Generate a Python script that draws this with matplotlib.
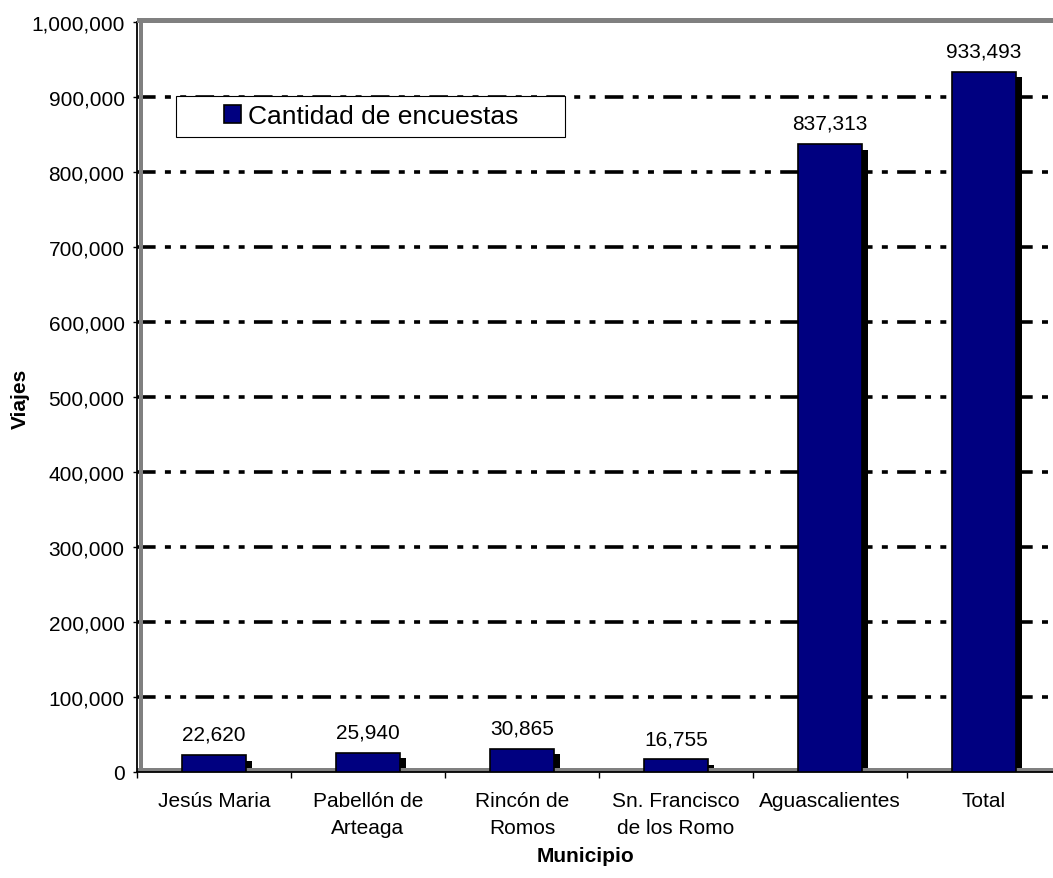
import matplotlib
matplotlib.use('Agg')
import matplotlib.pyplot as plt
from matplotlib.patches import Rectangle
from matplotlib.ticker import FuncFormatter
import numpy as np

plt.rcParams['font.family'] = ['Liberation Sans', 'DejaVu Sans']
plt.rcParams['lines.scale_dashes'] = False

# datos
municipios = ['Jesús Maria', 'Pabellón de\nArteaga', 'Rincón de\nRomos',
              'Sn. Francisco\nde los Romo', 'Aguascalientes', 'Total']
viajes = [22620, 25940, 30865, 16755, 837313, 933493]
serie = 'Cantidad de encuestas'
y_ticks = [0, 100000, 200000, 300000, 400000, 500000, 600000, 700000, 800000, 900000, 1000000]

W, H = 1053, 879
fig = plt.figure(figsize=(W / 100, H / 100), dpi=100)

# area de grafico en pixeles
x0, x1, ytop, ybot = 137, 1061, 23, 773
ax = fig.add_axes([x0 / W, (H - ybot) / H, (x1 - x0) / W, (ybot - ytop) / H])
ax.set_xlim(-0.5, len(municipios) - 0.5)
ax.set_ylim(0, 1000000)

px_x = 1.0 / 154          # una categoria = 154 px
px_y = 1000000 / 750.0    # 750 px para 1,000,000

x = np.arange(len(municipios))
ancho = 64 * px_x
fs = 15

# lineas de division (raya-punto-punto)
for t in y_ticks[1:-1]:
    ax.axhline(t, color='black', lw=2.6, zorder=1,
               linestyle=(0, (13.4, 6.7, 4.3, 6.7, 4.3, 6.7)))

# sombra de las barras
sh = 5.5
ax.bar(x + sh * px_x, [v - sh * px_y for v in viajes], width=ancho,
       bottom=0, color='black', zorder=2)

# piso gris
ax.axhspan(0, 4 * px_y, color='#808080', lw=0, zorder=2.5)

barras = ax.bar(x, viajes, width=ancho, color='#000080', edgecolor='black',
                linewidth=1.2, zorder=3, label=serie)

for xi, v in zip(x, viajes):
    ax.annotate(f'{v:,}', (xi, v), xytext=(0, 11), textcoords='offset points',
                ha='center', va='baseline', fontsize=fs, zorder=6)

# ejes
for s in ['top', 'right']:
    ax.spines[s].set_visible(False)
ax.spines['left'].set_linewidth(1.3)
ax.spines['bottom'].set_linewidth(1.3)

ax.set_yticks(y_ticks)
ax.yaxis.set_major_formatter(FuncFormatter(lambda v, p: f'{int(v):,}'))
ax.tick_params(axis='y', direction='out', length=3, width=1, pad=6, labelsize=fs)

ax.set_xticks(x)
ax.set_xticklabels(municipios, linespacing=1.5)
ax.set_xticks(np.arange(-0.5, len(municipios)), minor=True)
ax.tick_params(axis='x', which='major', length=0, pad=14, labelsize=fs)
ax.tick_params(axis='x', which='minor', direction='out', length=4, width=1)

# pared gris (arriba e izquierda)
fig.patches.append(Rectangle((x0 / W, (H - 24) / H), (W - x0) / W, 5 / H,
                             transform=fig.transFigure, color='#808080', lw=0, zorder=1))
fig.patches.append(Rectangle((139 / W, (H - ybot + 4) / H), 4 / W, (ybot - 19 - 4) / H,
                             transform=fig.transFigure, color='#808080', lw=0, zorder=1))

# leyenda
fig.patches.append(Rectangle((176 / W, (H - 138) / H), (565 - 176) / W, 41 / H,
                             transform=fig.transFigure, facecolor='white',
                             edgecolor='black', lw=0.8, zorder=4))
fig.legend(handles=[barras], labels=[serie], loc='center',
           bbox_to_anchor=(371 / W, 1 - 117.5 / H), frameon=False, fontsize=19,
           handlelength=0.65, handleheight=0.65, handletextpad=0.25,
           borderpad=0, borderaxespad=0)

fig.text(20 / W, 1 - 399 / H, 'Viajes', rotation=90, ha='center', va='center',
         fontsize=fs, fontweight='bold')
fig.text(586 / W, 1 - 857 / H, 'Municipio', ha='center', va='center',
         fontsize=fs, fontweight='bold')

fig.savefig('out.png', dpi=100)
